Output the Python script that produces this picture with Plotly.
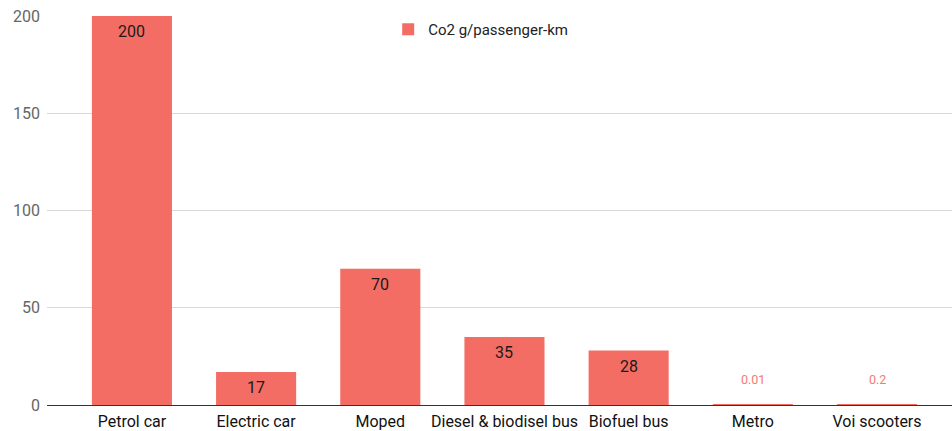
import plotly.graph_objects as go

categories = ["Petrol car", "Electric car", "Moped", "Diesel & biodisel bus",
              "Biofuel bus", "Metro", "Voi scooters"]
values = [200, 17, 70, 35, 28, 0.01, 0.2]
labels = ["200", "17", "70", "35", "28", "0.01", "0.2"]
series_name = "Co2 g/passenger-km"
y_ticks = [0, 50, 100, 150, 200]

BAR = "#F46D65"
x_idx = list(range(len(categories)))

fig = go.Figure()
fig.add_trace(go.Bar(
    x=x_idx, y=values, name=series_name, marker_color=BAR,
    marker_line_width=0, width=0.645, showlegend=True,
))

annotations = []
for i, (v, t) in enumerate(zip(values, labels)):
    if v >= 10:
        annotations.append(dict(x=i, y=v, text=t, showarrow=False, yanchor="top",
                                yshift=-4, font=dict(size=16, color="#1a1a1a", family="Roboto")))
    else:
        annotations.append(dict(x=i, y=0, text=t, showarrow=False, yanchor="bottom",
                                yshift=16, font=dict(size=12.5, color="#F47C74", family="Roboto")))

fig.update_layout(
    width=952, height=431,
    margin=dict(l=47, r=0, t=16, b=26, autoexpand=False),
    paper_bgcolor="white", plot_bgcolor="white",
    font=dict(family="Roboto", size=16, color="#222"),
    annotations=annotations,
    showlegend=True,
    legend=dict(x=0.377, y=1.008, xanchor="left", yanchor="top", bgcolor="rgba(0,0,0,0)",
                font=dict(size=15, color="#222", family="Roboto"), itemwidth=30),
)
fig.update_xaxes(
    range=[-0.684, 6.604], tickmode="array", tickvals=x_idx, ticktext=categories,
    showgrid=False, showline=False, zeroline=False, ticks="", automargin=False,
    tickfont=dict(size=16, color="#111"), fixedrange=True, ticklabelstandoff=5,
)
fig.update_yaxes(
    range=[0, 200], tickvals=y_ticks, showgrid=True, gridcolor="#d9d9d9",
    zeroline=True, zerolinecolor="#333", zerolinewidth=1.3, showline=False, automargin=False,
    tickfont=dict(size=16, color="#666"), ticks="", ticklabelstandoff=6, fixedrange=True,
    layer="above traces",
)

fig.write_html("out.html", config={"displayModeBar": False},
               post_script="document.body.style.margin='0';document.body.style.overflow='hidden';")
